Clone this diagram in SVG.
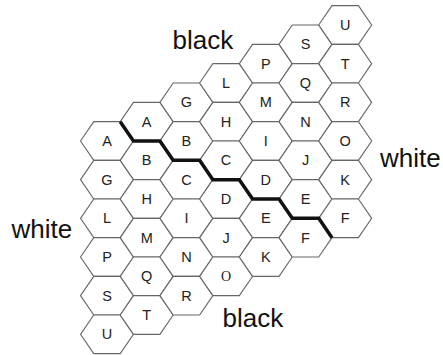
<svg xmlns="http://www.w3.org/2000/svg" xmlns:xlink="http://www.w3.org/1999/xlink" width="443" height="355" viewBox="0 0 443 355">
<style>
.h{fill:#fff;stroke:#666;stroke-width:1.1}
.t{font-family:"Liberation Sans",Arial,sans-serif;font-size:14.5px;fill:#222;text-anchor:middle}
.s{font-family:"Liberation Serif","Times New Roman",serif;font-size:14px;fill:#222;text-anchor:middle}
.b{font-family:"Liberation Sans",Arial,sans-serif;font-size:26px;fill:#111}
.p{fill:none;stroke:#111;stroke-width:3.5;stroke-linejoin:miter}
</style>
<defs>
<polygon id="hex" class="h" points="-26.47,0 -13.23,-19.33 13.23,-19.33 26.47,0 13.23,19.33 -13.23,19.33"/>
</defs>
<rect width="443" height="355" fill="#fff"/>
<g id="c0r0"><use xlink:href="#hex" href="#hex" x="107" y="141"/><text class="t" x="107" y="146">A</text></g>
<g id="c0r1"><use xlink:href="#hex" href="#hex" x="107" y="179.67"/><text class="t" x="107" y="184.67">G</text></g>
<g id="c0r2"><use xlink:href="#hex" href="#hex" x="107" y="218.33"/><text class="t" x="107" y="223.33">L</text></g>
<g id="c0r3"><use xlink:href="#hex" href="#hex" x="107" y="257"/><text class="t" x="107" y="262">P</text></g>
<g id="c0r4"><use xlink:href="#hex" href="#hex" x="107" y="295.67"/><text class="t" x="107" y="300.67">S</text></g>
<g id="c0r5"><use xlink:href="#hex" href="#hex" x="107" y="334.33"/><text class="t" x="107" y="339.33">U</text></g>
<g id="c1r0"><use xlink:href="#hex" href="#hex" x="146.7" y="121.67"/><text class="t" x="146.7" y="126.67">A</text></g>
<g id="c1r1"><use xlink:href="#hex" href="#hex" x="146.7" y="160.33"/><text class="t" x="146.7" y="165.33">B</text></g>
<g id="c1r2"><use xlink:href="#hex" href="#hex" x="146.7" y="199"/><text class="t" x="146.7" y="204">H</text></g>
<g id="c1r3"><use xlink:href="#hex" href="#hex" x="146.7" y="237.67"/><text class="t" x="146.7" y="242.67">M</text></g>
<g id="c1r4"><use xlink:href="#hex" href="#hex" x="146.7" y="276.33"/><text class="t" x="146.7" y="281.33">Q</text></g>
<g id="c1r5"><use xlink:href="#hex" href="#hex" x="146.7" y="315"/><text class="t" x="146.7" y="320">T</text></g>
<g id="c2r0"><use xlink:href="#hex" href="#hex" x="186.4" y="102.33"/><text class="t" x="186.4" y="107.33">G</text></g>
<g id="c2r1"><use xlink:href="#hex" href="#hex" x="186.4" y="141"/><text class="t" x="186.4" y="146">B</text></g>
<g id="c2r2"><use xlink:href="#hex" href="#hex" x="186.4" y="179.67"/><text class="t" x="186.4" y="184.67">C</text></g>
<g id="c2r3"><use xlink:href="#hex" href="#hex" x="186.4" y="218.33"/><text class="t" x="186.4" y="223.33">I</text></g>
<g id="c2r4"><use xlink:href="#hex" href="#hex" x="186.4" y="257"/><text class="t" x="186.4" y="262">N</text></g>
<g id="c2r5"><use xlink:href="#hex" href="#hex" x="186.4" y="295.67"/><text class="t" x="186.4" y="300.67">R</text></g>
<g id="c3r0"><use xlink:href="#hex" href="#hex" x="226.1" y="83"/><text class="t" x="226.1" y="88">L</text></g>
<g id="c3r1"><use xlink:href="#hex" href="#hex" x="226.1" y="121.67"/><text class="t" x="226.1" y="126.67">H</text></g>
<g id="c3r2"><use xlink:href="#hex" href="#hex" x="226.1" y="160.33"/><text class="t" x="226.1" y="165.33">C</text></g>
<g id="c3r3"><use xlink:href="#hex" href="#hex" x="226.1" y="199"/><text class="t" x="226.1" y="204">D</text></g>
<g id="c3r4"><use xlink:href="#hex" href="#hex" x="226.1" y="237.67"/><text class="t" x="226.1" y="242.67">J</text></g>
<g id="c3r5"><use xlink:href="#hex" href="#hex" x="226.1" y="276.33"/><text class="s" x="226.1" y="281.33">O</text></g>
<g id="c4r0"><use xlink:href="#hex" href="#hex" x="265.8" y="63.67"/><text class="t" x="265.8" y="68.67">P</text></g>
<g id="c4r1"><use xlink:href="#hex" href="#hex" x="265.8" y="102.33"/><text class="t" x="265.8" y="107.33">M</text></g>
<g id="c4r2"><use xlink:href="#hex" href="#hex" x="265.8" y="141"/><text class="t" x="265.8" y="146">I</text></g>
<g id="c4r3"><use xlink:href="#hex" href="#hex" x="265.8" y="179.67"/><text class="t" x="265.8" y="184.67">D</text></g>
<g id="c4r4"><use xlink:href="#hex" href="#hex" x="265.8" y="218.33"/><text class="t" x="265.8" y="223.33">E</text></g>
<g id="c4r5"><use xlink:href="#hex" href="#hex" x="265.8" y="257"/><text class="t" x="265.8" y="262">K</text></g>
<g id="c5r0"><use xlink:href="#hex" href="#hex" x="305.5" y="44.33"/><text class="t" x="305.5" y="49.33">S</text></g>
<g id="c5r1"><use xlink:href="#hex" href="#hex" x="305.5" y="83"/><text class="t" x="305.5" y="88">Q</text></g>
<g id="c5r2"><use xlink:href="#hex" href="#hex" x="305.5" y="121.67"/><text class="t" x="305.5" y="126.67">N</text></g>
<g id="c5r3"><use xlink:href="#hex" href="#hex" x="305.5" y="160.33"/><text class="t" x="305.5" y="165.33">J</text></g>
<g id="c5r4"><use xlink:href="#hex" href="#hex" x="305.5" y="199"/><text class="t" x="305.5" y="204">E</text></g>
<g id="c5r5"><use xlink:href="#hex" href="#hex" x="305.5" y="237.67"/><text class="t" x="305.5" y="242.67">F</text></g>
<g id="c6r0"><use xlink:href="#hex" href="#hex" x="345.2" y="25"/><text class="t" x="345.2" y="30">U</text></g>
<g id="c6r1"><use xlink:href="#hex" href="#hex" x="345.2" y="63.67"/><text class="t" x="345.2" y="68.67">T</text></g>
<g id="c6r2"><use xlink:href="#hex" href="#hex" x="345.2" y="102.33"/><text class="t" x="345.2" y="107.33">R</text></g>
<g id="c6r3"><use xlink:href="#hex" href="#hex" x="345.2" y="141"/><text class="t" x="345.2" y="146">O</text></g>
<g id="c6r4"><use xlink:href="#hex" href="#hex" x="345.2" y="179.67"/><text class="t" x="345.2" y="184.67">K</text></g>
<g id="c6r5"><use xlink:href="#hex" href="#hex" x="345.2" y="218.33"/><text class="t" x="345.2" y="223.33">F</text></g>
<g id="connectors">
<polyline class="p" points="120.23,121.67 133.47,141 159.93,141 173.17,160.33 199.63,160.33 212.87,179.67 239.33,179.67 252.57,199 279.03,199 292.27,218.33 318.73,218.33 331.97,237.67"/>
</g>
<g id="labels">
<text class="b" x="172.5" y="49">black</text>
<text class="b" x="222.5" y="327">black</text>
<text class="b" x="11.5" y="238">white</text>
<text class="b" x="380" y="167">white</text>
</g>
</svg>
